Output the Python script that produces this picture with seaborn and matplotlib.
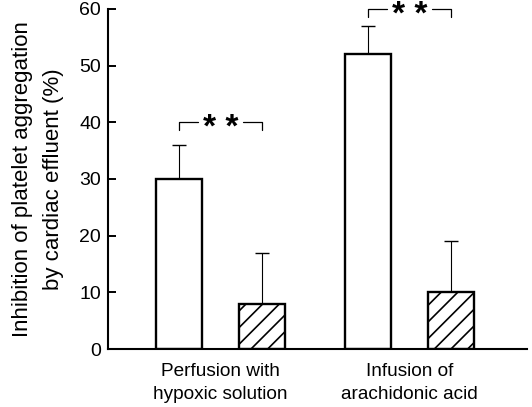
import matplotlib
matplotlib.use("Agg")
import matplotlib.pyplot as plt
import seaborn as sns
import pandas as pd

groups = ["Perfusion with\nhypoxic solution", "Infusion of\narachidonic acid"]
conditions = ["Open", "Hatched"]
values_open = [30, 52]
values_hatched = [8, 10]
err_open = [6, 5]
err_hatched = [9, 9]
yticks = [0, 10, 20, 30, 40, 50, 60]
ylabel = "Inhibition of platelet aggregation\nby cardiac effluent (%)"
sig_label = "* *"
sig_heights = [40, 60]

sns.set_theme(style="ticks")
plt.rcParams["font.family"] = ["Liberation Sans", "DejaVu Sans"]
plt.rcParams["hatch.linewidth"] = 1.2
for k in ["text.color", "axes.labelcolor", "xtick.color", "ytick.color",
          "axes.edgecolor", "hatch.color"]:
    plt.rcParams[k] = "black"

df = pd.DataFrame({
    "group": groups * 2,
    "cond": [conditions[0]] * 2 + [conditions[1]] * 2,
    "value": values_open + values_hatched,
    "err": err_open + err_hatched,
})

fig = plt.figure(figsize=(5.32, 4.07), dpi=100)
ax = fig.add_axes([0.203, 0.1425, 0.787, 0.8355])

sns.barplot(data=df, x="group", y="value", hue="cond", order=groups,
            hue_order=conditions, palette={c: "white" for c in conditions},
            edgecolor="black", linewidth=1.7, width=0.88, gap=0.45,
            errorbar=None, legend=False, ax=ax, zorder=2)

bar_conts = list(ax.containers)
for ci, cont in enumerate(bar_conts):
    errs = df[df["cond"] == conditions[ci]].set_index("group").loc[groups, "err"].values
    xs, tops = [], []
    for p in cont.patches:
        if ci == 1:
            p.set_hatch("//")
        xs.append(p.get_x() + p.get_width() / 2)
        tops.append(p.get_height())
    ax.errorbar(xs, tops, yerr=[[0] * len(errs), errs], fmt="none",
                ecolor="black", elinewidth=0.8, capsize=4.7, capthick=1.0,
                zorder=1)

# significance brackets between the paired bars
for gi in range(len(groups)):
    p1 = bar_conts[0].patches[gi]
    p2 = bar_conts[1].patches[gi]
    x1 = p1.get_x() + p1.get_width() / 2
    x2 = p2.get_x() + p2.get_width() / 2
    y = sig_heights[gi]
    drop = 1.4
    span = x2 - x1
    kw = dict(color="black", lw=0.9, clip_on=False)
    ax.plot([x1, x1, x1 + 0.23 * span], [y - drop, y, y], **kw)
    ax.plot([x2 - 0.23 * span, x2, x2], [y, y, y - drop], **kw)
    ax.text((x1 + x2) / 2, y - 1.1, sig_label, ha="center", va="center",
            fontsize=24, fontweight="bold", clip_on=False)

ax.set_ylim(0, 60)
ax.set_xlim(-0.595, 1.62)
ax.set_yticks(yticks)
ax.set_yticklabels([str(t) for t in yticks], fontsize=14)
ax.set_xticks(range(len(groups)))
ax.set_xticklabels(groups, fontsize=13.7, linespacing=1.5)
ax.tick_params(axis="y", direction="in", length=6, width=1.4, pad=5)
ax.tick_params(axis="x", length=0, pad=10)
ax.set_xlabel("")
ax.set_ylabel(ylabel, fontsize=16, labelpad=11, linespacing=1.6)
sns.despine(ax=ax)
ax.spines["left"].set_linewidth(1.5)
ax.spines["bottom"].set_linewidth(1.5)

fig.savefig("out.png", dpi=100, facecolor="white")
